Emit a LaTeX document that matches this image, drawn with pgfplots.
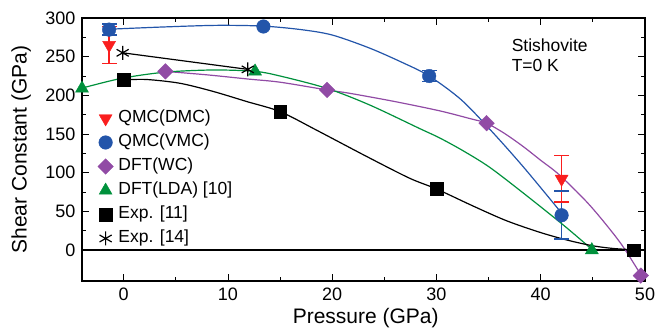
\documentclass[border=0pt]{standalone}
\usepackage{fontspec}
\setmainfont{Liberation Sans}
\usepackage{pgfplots}
\pgfplotsset{compat=1.18}
\definecolor{cred}{RGB}{250,30,30}
\definecolor{cblue}{RGB}{35,85,170}
\definecolor{cpurple}{RGB}{145,75,165}
\definecolor{cgreen}{RGB}{0,145,60}
\pgfplotsset{mylegend/.style={legend image code/.code={\draw[mark repeat=2,mark phase=2,##1] plot coordinates {(0pt,0pt) (8pt,0pt) (16pt,0pt)};}}}
\begin{document}
\begin{tikzpicture}
\begin{axis}[
 at={(0,0)}, anchor=south west,
 scale only axis, width=563pt, height=263pt,
 xmin=-4, xmax=50, ymin=-40, ymax=300,
 xtick={0,10,...,50}, ytick={0,50,...,300},
 minor x tick num=1, minor y tick num=1,
 major tick length=7pt, minor tick length=4pt,
 tick style={black, line width=0.9pt},
 axis line style={line width=1.2pt},
 /pgf/number format/assume math mode=true,
 ticklabel style={font=\fontsize{18}{20}\selectfont},
 xticklabel style={yshift=-3pt},
 yticklabel style={xshift=-3pt},
 xlabel={Pressure (GPa)}, ylabel={Shear Constant (GPa)},
 label style={font=\fontsize{21}{24}\selectfont},
 xlabel style={at={(axis description cs:0.504,-0.1407)}, anchor=center},
 ylabel style={at={(axis description cs:-0.108,0.5)}, anchor=center},
 clip=false,
 legend style={font=\fontsize{17.5}{20}\selectfont, draw=none, fill=none, inner sep=0pt,
   at={(axis cs:-2.5,182)}, anchor=north west, row sep=6pt, column sep=4pt,
   nodes={inner sep=1pt, text height=12.5pt, text depth=3.5pt}},
 legend cell align=left,
 ebar/.style={line width=1.6pt, mark=-, mark size=7.5pt, mark options={line width=1.6pt}, forget plot},
]
% zero line
\addplot[black, line width=1.2pt, forget plot] coordinates {(-4,0) (50,0)};
% error bars (value - error, value + error)
\addplot[cblue, ebar] coordinates {(42,14) (42,76)};
\addplot[cred, ebar] coordinates {(-1.4,241) (-1.4,289)};
\addplot[cred, ebar] coordinates {(42,62) (42,122)};
\addplot[cblue, ebar] coordinates {(-1.4,278) (-1.4,292)};
\addplot[cblue, ebar] coordinates {(29.3,218) (29.3,232)};
% fitted curves
\addplot[cblue, line width=1.2pt, smooth, forget plot] coordinates {
 (-1.4,285.5) (4,288.5) (9,290.5) (13.4,289.5) (17,285) (20,278) (23.6,261) (26.8,242) (29.3,225) (32.4,194) (35.4,152) (38.3,108) (41.5,56) (42,47)};
\addplot[cpurple, line width=1.2pt, smooth, forget plot] coordinates {
 (4,231) (8,226.5) (12,221) (15,217) (19.5,207) (21.7,202.6) (26,192) (30.3,180) (33.2,170) (34.8,164) (36.5,151) (38.3,134) (40,116) (41.8,97) (44.7,58) (47.6,10) (49.6,-32)};
\addplot[cgreen, line width=1.2pt, smooth, forget plot] coordinates {
 (-4.1,209) (-0.2,222) (4,230) (8.6,232.8) (12.6,231) (15,225) (19.5,209) (23.6,187.5) (28.4,157) (30.3,145) (32.6,128) (35.1,107) (38.3,74) (42.2,32) (44.9,1)};
\addplot[black, line width=1.2pt, smooth, forget plot] coordinates {
 (0,220) (2.2,220.5) (5.4,215.6) (8.6,205) (11.8,192) (15,179) (18.5,155) (23.3,121) (27.4,93) (30,79) (33.5,57) (36.7,38) (39.9,23) (42.5,13) (45,5.5) (47,2) (49,0.3)};
\addplot[black, line width=1.2pt, forget plot] coordinates {(-0.1,255) (11.9,233.6)};
% markers
\addplot[cred, only marks, mylegend, mark=triangle*, mark size=7.5pt, mark options={rotate=180, fill=cred, draw=cred}]
 coordinates {(-1.4,265) (42,92)};
\addlegendentry{QMC(DMC)}
\addplot[cblue, only marks, mylegend, mark=*, mark size=6.8pt, mark options={fill=cblue, draw=cblue}]
 coordinates {(-1.4,285) (13.4,289) (29.3,225) (42,45)};
\addlegendentry{QMC(VMC)}
\addplot[cpurple, only marks, mylegend, mark=square*, mark size=5.5pt, mark options={rotate=45, fill=cpurple, draw=cpurple}]
 coordinates {(4,231) (19.5,207) (34.8,164) (49.6,-33)};
\addlegendentry{DFT(WC)}
\addplot[cgreen, only marks, mylegend, mark=triangle*, mark size=7.5pt, mark options={fill=cgreen, draw=cgreen}]
 coordinates {(-4,209) (12.6,231) (44.9,0)};
\addlegendentry{DFT(LDA) [10]}
\addplot[black, only marks, mylegend, mark=square*, mark size=6.3pt, mark options={fill=black, draw=black}]
 coordinates {(0,220) (15,179) (30,79) (48.9,0)};
\addlegendentry{Exp. [11]}
\addplot[black, only marks, mylegend, mark=asterisk, mark size=7pt, mark options={draw=black, line width=1.2pt}]
 coordinates {(-0.1,255) (11.9,233.6)};
\addlegendentry{Exp. [14]}
\node[anchor=north west, align=left, font=\fontsize{17.5}{19.5}\selectfont, inner sep=0pt] at (axis cs:37.2,273) {Stishovite\\T=0 K};
\end{axis}
\pgfresetboundingbox
\path[use as bounding box] (-82pt,-52pt) rectangle (576pt,281pt);
\end{tikzpicture}
\end{document}
